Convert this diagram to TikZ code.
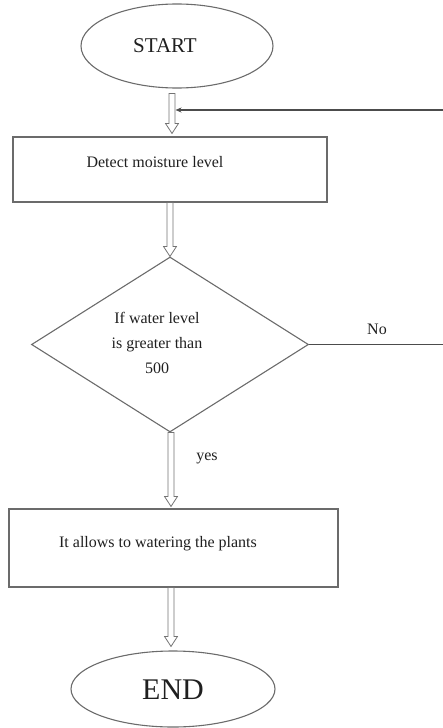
\documentclass[tikz,border=0pt]{standalone}
\usepackage{fontspec}
\setmainfont{Liberation Serif}
\usetikzlibrary{shapes.geometric,calc,arrows.meta}
\begin{document}
\begin{tikzpicture}[x=1pt,y=-1pt,
  shapeline/.style={draw=black!58, line width=1.1pt},
  term/.style={shapeline, ellipse, inner sep=0pt},
  procbox/.style={shapeline, rectangle, inner sep=0pt},
  decide/.style={shapeline, diamond, inner sep=0pt},
  txt/.style={text=black!88, font=\fontsize{16}{25}\selectfont, align=center, inner sep=0pt},
  hollow/.style={draw=black!55, line width=0.8pt, fill=white,
    to path={let \p1=(\tikztostart), \p2=(\tikztotarget) in
      (\x2-3pt,\y1) -- (\x2-3pt,\y2+10pt) -- (\x2-6.5pt,\y2+10pt) -- (\x2,\y2)
      -- (\x2+6.5pt,\y2+10pt) -- (\x2+3pt,\y2+10pt) -- (\x2+3pt,\y1) -- cycle}},
  loopline/.style={draw=black!70, line width=1.3pt}]
\useasboundingbox (0,0) rectangle (442,728);
% shapes
\node[term, minimum width=192pt, minimum height=84pt] (start) at (177,46) {};
\node[txt, font=\fontsize{21}{25}\selectfont] (starttxt) at (165,46) {START};
\node[procbox, minimum width=314pt, minimum height=65pt] (detect) at (170,169.5) {};
\node[txt] (detecttxt) at (155,162) {Detect moisture level};
\node[decide, minimum width=277pt, minimum height=175pt] (dec) at (170,344.5) {};
\node[txt] (dectxt) at (157,343) {If water level\\is greater than\\500};
\node[procbox, minimum width=329pt, minimum height=78pt] (water) at (173.5,548) {};
\node[txt] (watertxt) at (158,544) {It allows to watering the plants};
\node[term, minimum width=204pt, minimum height=76pt] (end) at (173,689) {};
\node[txt, font=\fontsize{30}{32}\selectfont] (endtxt) at (173,690) {END};
\node[txt] (no) at (377,329) {No};
\node[txt] (yes) at (207,458) {yes};
\coordinate (entry) at (175.5,110);
% connectors
\draw[hollow] ([yshift=-5pt]start.south) to ([xshift=2pt,yshift=3pt]detect.north);
\draw[hollow] (detect.south) to (dec.north);
\draw[hollow] (dec.south) to ([xshift=-2.5pt,yshift=2pt]water.north);
\draw[hollow] (water.south) to ([xshift=-2pt,yshift=4pt]end.north);
\draw[loopline, -{Stealth[length=6pt,width=5pt]}] (dec.east) -- (444,344.5) |- (entry);
\end{tikzpicture}
\end{document}
